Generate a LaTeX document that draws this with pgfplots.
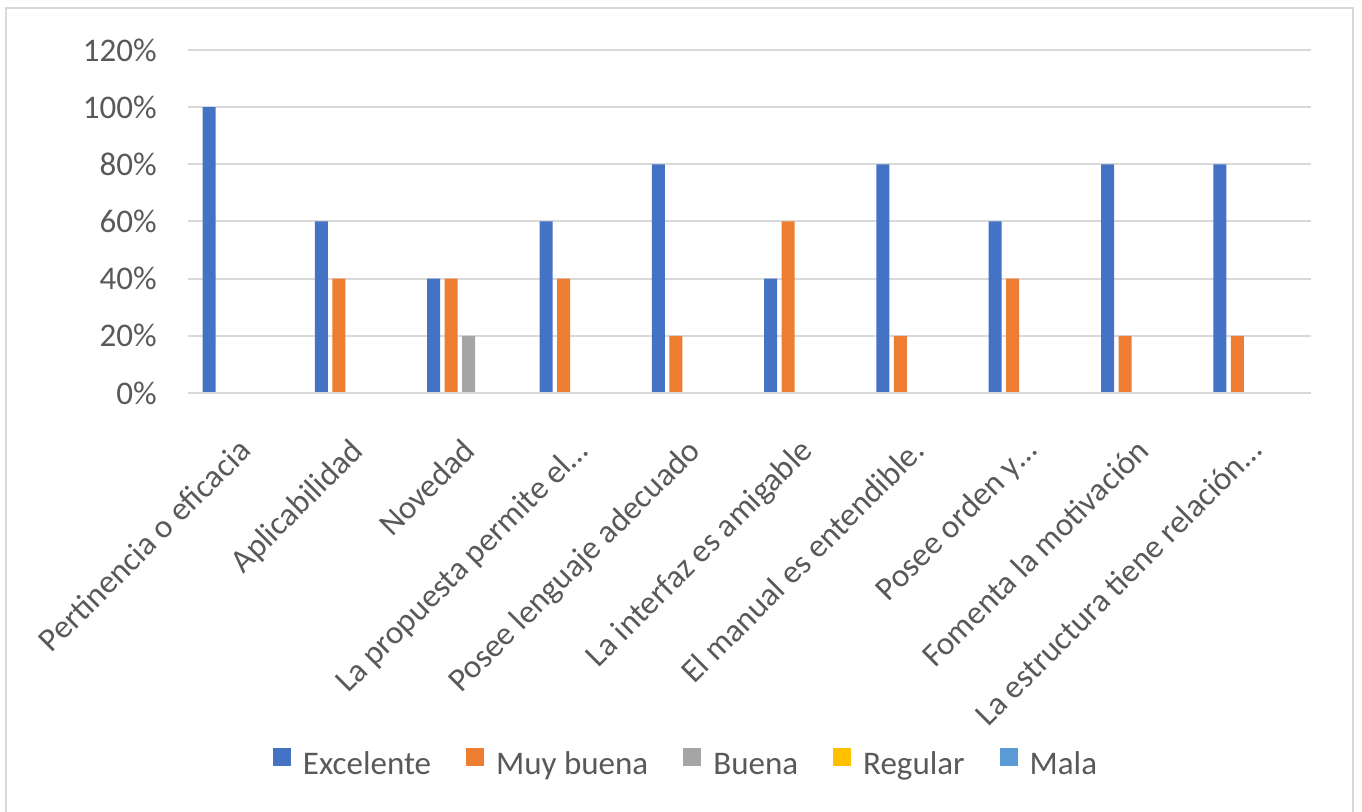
\documentclass[border=0pt]{standalone}
\usepackage{pgfplots}
\pgfplotsset{compat=1.18}
\usepackage{fontspec}
\setmainfont{Carlito}
\definecolor{txt}{HTML}{595959}
\definecolor{gridc}{HTML}{D9D9D9}
\definecolor{cExc}{HTML}{4472C4}
\definecolor{cMuy}{HTML}{ED7D31}
\definecolor{cBue}{HTML}{A5A5A5}
\definecolor{cReg}{HTML}{FFC000}
\definecolor{cMal}{HTML}{5B9BD5}
\begin{document}
\fontsize{16.5}{19.5}\selectfont
\begin{tikzpicture}
  % 1 px of the reference = 0.5pt
  \useasboundingbox (0,0) rectangle (681pt,406pt);
  \draw[gridc, line width=1.3pt] (3pt,0) -- (3pt,402pt) -- (676.5pt,402pt) -- (676.5pt,0);
  \begin{axis}[
    at={(94pt,209.5pt)}, anchor=south west,
    scale only axis,
    width=561.5pt, height=171.5pt,
    ybar=2.25pt, bar width=6.5pt,
    xmin=-0.5, xmax=9.5,
    ymin=0, ymax=120,
    xtick=data,
    xticklabels={Pertinencia o eficacia, Aplicabilidad, Novedad,
      La propuesta permite el…, Posee lenguaje adecuado,
      La interfaz es amigable, El manual es entendible.,
      Posee orden y…, Fomenta la motivación,
      La estructura tiene relación…},
    ytick={0,20,40,60,80,100,120},
    yticklabels={0\%,20\%,40\%,60\%,80\%,100\%,120\%},
    major tick length=0pt,
    axis line style={draw=none},
    ymajorgrids=true,
    grid style={gridc, line width=1pt},
    tick label style={text=txt, font=\fontsize{16.5}{19.5}\selectfont},
    yticklabel style={inner sep=0pt, anchor=east, xshift=-15.5pt},
    xticklabel style={rotate=45, anchor=north east, inner sep=0pt, xshift=-18pt, yshift=-12.5pt},
    legend columns=-1,
    legend style={draw=none, at={(0.4426,-1.0816)}, anchor=center,
      font=\fontsize{16.5}{19.5}\selectfont, text=txt,
      nodes={inner sep=0pt},
      /tikz/every odd column/.append style={column sep=6pt},
      /tikz/every even column/.append style={column sep=17.5pt}},
    legend image code/.code={\fill[#1] (0pt,0pt) rectangle (9pt,9pt);},
  ]
    \addplot[fill=cExc, draw=none] coordinates
      {(0,100) (1,60) (2,40) (3,60) (4,80) (5,40) (6,80) (7,60) (8,80) (9,80)};
    \addplot[fill=cMuy, draw=none] coordinates
      {(0,0) (1,40) (2,40) (3,40) (4,20) (5,60) (6,20) (7,40) (8,20) (9,20)};
    \addplot[fill=cBue, draw=none] coordinates
      {(0,0) (1,0) (2,20) (3,0) (4,0) (5,0) (6,0) (7,0) (8,0) (9,0)};
    \addplot[fill=cReg, draw=none] coordinates
      {(0,0) (1,0) (2,0) (3,0) (4,0) (5,0) (6,0) (7,0) (8,0) (9,0)};
    \addplot[fill=cMal, draw=none] coordinates
      {(0,0) (1,0) (2,0) (3,0) (4,0) (5,0) (6,0) (7,0) (8,0) (9,0)};
    \legend{Excelente, Muy buena, Buena, Regular, Mala}
    % zero line redrawn over the empty bars
    \draw[gridc, line width=1pt] (axis cs:-0.5,0) -- (axis cs:9.5,0);
  \end{axis}
\end{tikzpicture}
\end{document}
